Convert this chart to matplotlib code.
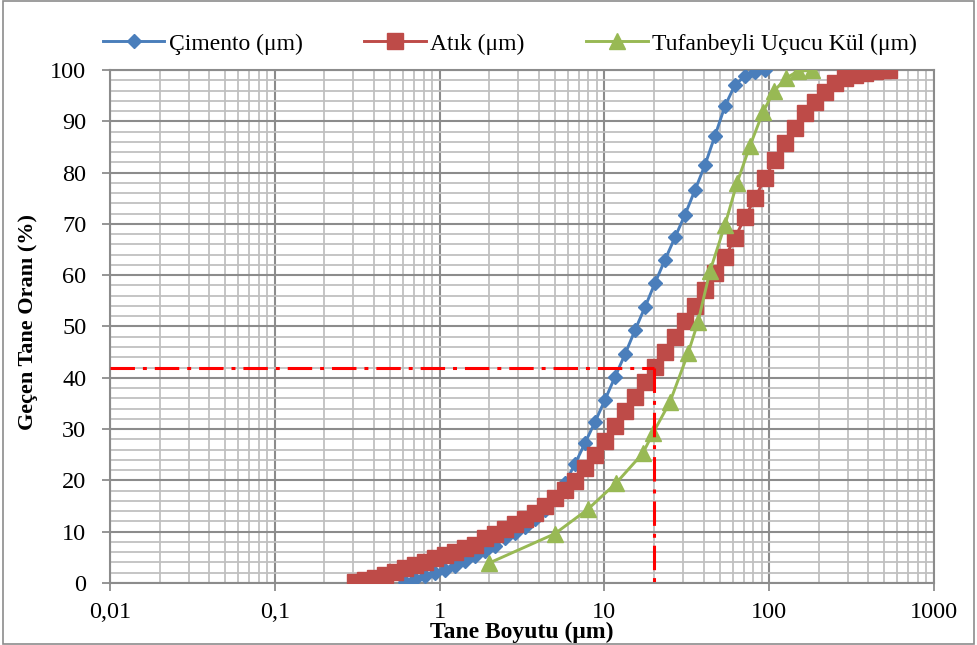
import matplotlib.pyplot as plt
from matplotlib.patches import Rectangle
from matplotlib.ticker import FixedLocator, NullFormatter, MultipleLocator

plt.rcParams['font.family'] = ['Liberation Serif', 'DejaVu Serif']

# particle size classes (um) shared by cement and waste
size_cls = [0.307, 0.353, 0.406, 0.466, 0.536, 0.617, 0.709, 0.815, 0.938, 1.078,
            1.240, 1.426, 1.640, 1.886, 2.168, 2.494, 2.868, 3.298, 3.793, 4.362,
            5.015, 5.767, 6.632, 7.627, 8.770, 10.08, 11.60, 13.34, 15.34, 17.64,
            20.28, 23.32, 26.82, 30.84, 35.46, 40.78, 46.90, 53.93, 62.02, 71.32,
            82.0, 94.3, 108.4, 124.7, 143.4, 164.9, 189.6, 218.1, 250.8, 288.4,
            331.6, 381.4, 438.5, 490.0, 530.0]

cimento_x = size_cls[5:42]
cimento_y = [0.2, 0.8, 1.3, 1.9, 2.6, 3.4, 4.3, 5.3, 6.3, 7.3,
             8.7, 9.8, 11.0, 12.5, 14.2, 16.5, 19.5, 23.2, 27.3, 31.4,
             35.7, 40.2, 44.6, 49.3, 53.8, 58.5, 63.0, 67.4, 71.8, 76.6,
             81.5, 87.2, 93.0, 97.1, 98.8, 99.6, 100.0]

atik_x = size_cls
atik_y = [0.2, 0.6, 1.0, 1.6, 2.1, 2.9, 3.5, 4.1, 4.9, 5.5,
          6.0, 6.8, 7.4, 8.8, 9.6, 10.5, 11.5, 12.5, 13.6, 15.0,
          16.6, 18.1, 19.9, 22.4, 25.0, 27.7, 30.6, 33.5, 36.3, 39.2,
          42.1, 45.0, 48.0, 51.1, 54.0, 57.1, 60.4, 63.5, 67.3, 71.3,
          75.0, 79.0, 82.5, 85.8, 88.7, 91.6, 93.8, 95.7, 97.5, 98.4,
          99.0, 99.4, 99.8, 100.0, 100.0]

tufan_x = [2.0, 5.0, 7.95, 11.8, 17.1, 19.7, 25.0, 32.2, 37.0, 43.7,
           53.9, 63.8, 76.4, 91.7, 107, 126.5, 149.6, 182]
tufan_y = [3.9, 9.6, 14.4, 19.5, 25.3, 29.2, 35.3, 44.8, 50.9, 60.8,
           69.8, 78.0, 85.2, 91.8, 95.9, 98.4, 99.8, 99.9]

# reference lines (d = 20 um at 42 %)
ref_x = 20
ref_y = 42

x_ticks = [0.01, 0.1, 1, 10, 100, 1000]
x_labels = ['0,01', '0,1', '1', '10', '100', '1000']

fig = plt.figure(figsize=(9.77, 6.45), dpi=100)
ax = fig.add_axes([0.1126, 0.0961, 0.8434, 0.7954])

ax.plot(cimento_x, cimento_y, color='#4A7EBB', lw=2.1, marker='D', ms=7.5,
        label='Çimento (μm)', zorder=3)
ax.plot(atik_x, atik_y, color='#BE4B48', lw=2.1, marker='s', ms=11.5,
        label='Atık (μm)', zorder=4)
ax.plot(tufan_x, tufan_y, color='#98B954', lw=2.1, marker='^', ms=11,
        label='Tufanbeyli Uçucu Kül (μm)', zorder=5)

dash = (0, (8, 2.6, 1.3, 2.6))
ax.plot([0.01, ref_x], [ref_y, ref_y], color='red', lw=2.2, linestyle=dash, zorder=6)
ax.plot([ref_x, ref_x], [ref_y, 0], color='red', lw=2.2, linestyle=dash, zorder=6)

ax.set_xscale('log')
ax.set_xlim(0.01, 1000)
ax.set_ylim(0, 100)
ax.set_xticks(x_ticks)
ax.set_xticklabels(x_labels)
minors = [m * 10.0 ** e for e in range(-2, 3) for m in range(2, 10)]
ax.xaxis.set_minor_locator(FixedLocator(minors))
ax.xaxis.set_minor_formatter(NullFormatter())
ax.yaxis.set_major_locator(MultipleLocator(10))
ax.yaxis.set_minor_locator(MultipleLocator(2))

ax.grid(which='major', color='#8C8C8C', lw=1.5)
ax.grid(which='minor', color='#C0C0C0', lw=1.3)
ax.set_axisbelow(True)
ax.tick_params(which='major', length=6, width=1.3, color='#8C8C8C',
               labelsize=17.5, pad=8)
ax.tick_params(axis='y', which='major', pad=11)
ax.tick_params(which='minor', length=0)
for s in ax.spines.values():
    s.set_color('#8C8C8C')
    s.set_linewidth(1.5)

fig.text(0.029, 0.5, 'Geçen Tane Oranı (%)', rotation=90, fontsize=16,
         fontweight='bold', ha='center', va='center')
fig.text(0.534, 0.02, 'Tane Boyutu (μm)', fontsize=17, fontweight='bold',
         ha='center', va='center')

fig.legend(loc='center', bbox_to_anchor=(0.522, 0.932), ncol=3, frameon=False,
           fontsize=17, handlelength=2.6, handletextpad=0.2, columnspacing=2.6)

fig.patches.append(Rectangle((0.003, 0.002), 0.994, 0.996, transform=fig.transFigure,
                             fill=False, edgecolor='#8C8C8C', lw=1.2))

fig.savefig('out.png', dpi=100)
